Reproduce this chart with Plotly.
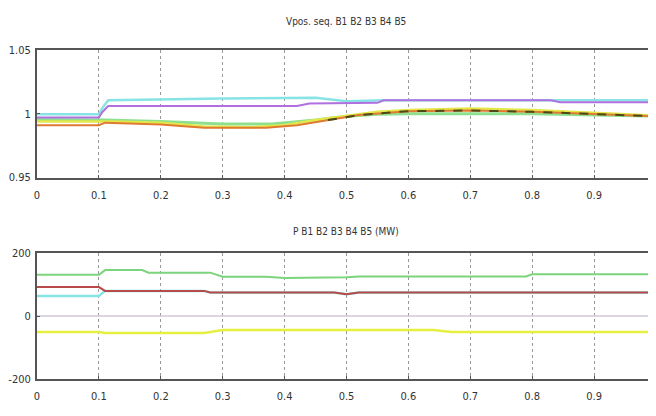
import plotly.graph_objects as go

# ---------- data: top panel (Vpos. seq., pu) ----------
t_yel = [0, 0.1, 0.12, 0.2, 0.27, 0.35, 0.4, 0.45, 0.5, 0.55, 0.6, 0.7, 0.8, 0.9, 1.0]
v_yel = [0.994, 0.994, 0.994, 0.993, 0.990, 0.9895, 0.991, 0.995, 0.9985, 1.0015, 1.003, 1.004, 1.003, 1.001, 0.9985]

t_mag = [0, 0.1, 0.105, 0.115, 0.42, 0.44, 0.55, 0.56, 0.83, 0.845, 1.0]
v_mag = [0.997, 0.997, 1.001, 1.006, 1.006, 1.008, 1.0085, 1.0105, 1.0105, 1.009, 1.009]

t_cya = [0, 0.1, 0.105, 0.115, 0.3, 0.45, 0.5, 0.56, 1.0]
v_cya = [0.9995, 0.9995, 1.004, 1.0105, 1.012, 1.0125, 1.0098, 1.0106, 1.0106]

t_red = [0, 0.1, 0.11, 0.2, 0.27, 0.37, 0.42, 0.47, 0.52, 0.6, 0.7, 0.8, 0.9, 1.0]
v_red = [0.991, 0.991, 0.993, 0.9915, 0.989, 0.989, 0.991, 0.995, 0.999, 1.002, 1.0025, 1.0015, 1.0, 0.998]

t_grn = [0, 0.1, 0.11, 0.2, 0.3, 0.38, 0.45, 0.5, 0.55, 0.6, 0.8, 0.9, 1.0]
v_grn = [0.9955, 0.9955, 0.995, 0.994, 0.992, 0.992, 0.995, 0.998, 0.9995, 1.0, 1.0, 0.999, 0.998]

t_drk = [0.47, 0.52, 0.6, 0.7, 0.8, 0.9, 1.0]
v_drk = [0.995, 0.999, 1.002, 1.0025, 1.0015, 1.0, 0.998]

# ---------- data: bottom panel (P, MW) ----------
tp_grn = [0, 0.1, 0.11, 0.17, 0.18, 0.28, 0.3, 0.37, 0.4, 0.5, 0.52, 0.79, 0.8, 1.0]
p_grn = [131, 131, 146, 146, 138, 138, 125, 125, 121, 123, 126, 126, 133, 133]

tp_red = [0, 0.1, 0.11, 0.27, 0.28, 0.48, 0.5, 0.52, 1.0]
p_red = [92, 92, 80, 80, 75, 75, 69, 75, 75]

tp_cya = [0, 0.1, 0.11, 0.27, 0.28, 0.48, 0.5, 0.52, 1.0]
p_cya = [64, 64, 80, 80, 75, 75, 69, 75, 75]

tp_yel = [0, 0.1, 0.11, 0.27, 0.3, 0.64, 0.67, 1.0]
p_yel = [-51, -51, -54, -54, -44, -44, -51, -51]

tp_mag = [0, 1.0]
p_mag = [0, 0]

x_ticks = [0, 0.1, 0.2, 0.3, 0.4, 0.5, 0.6, 0.7, 0.8, 0.9, 1.0]
x_labels = ["0", "0.1", "0.2", "0.3", "0.4", "0.5", "0.6", "0.7", "0.8", "0.9", "1"]
y1_ticks = [0.95, 1.0, 1.05]
y1_labels = ["0.95", "1", "1.05"]
y2_ticks = [-200, 0, 200]
y2_labels = ["-200", "0", "200"]

title_top = "Vpos. seq. B1 B2 B3 B4 B5"
title_bot = "P B1 B2 B3 B4 B5 (MW)"

fig = go.Figure()

def add(x, y, color, ax, width=2, dash=None):
    fig.add_trace(go.Scatter(x=x, y=y, mode="lines", xaxis=ax[0], yaxis=ax[1],
                             line=dict(color=color, width=width, dash=dash),
                             showlegend=False, hoverinfo="skip"))

top = ("x", "y")
bot = ("x2", "y2")
add(t_grn, v_grn, "#8ee08e", top, 3)
add(t_yel, v_yel, "#e2e84a", top, 2.5)
add(t_red, v_red, "#e07a30", top, 2)
add(t_drk, v_drk, "#4a4a18", top, 2, "dash")
add(t_cya, v_cya, "#88e4e4", top, 2.5)
add(t_mag, v_mag, "#b070e0", top, 2)

add(tp_mag, p_mag, "#cfc8d4", bot, 1.5)
add(tp_yel, p_yel, "#e6f040", bot, 2.5)
add(tp_grn, p_grn, "#7cd47c", bot, 2)
add(tp_cya, p_cya, "#88e4e4", bot, 2.5)
add(tp_red, p_red, "#b84a4a", bot, 2)

fam = "Liberation Sans Narrow, DejaVu Sans Condensed, Liberation Sans"
font = dict(family=fam, size=11, color="#333333")

xcommon = dict(range=[0, 0.9968], tickvals=x_ticks, ticktext=x_labels,
               showgrid=True, gridcolor="#999999", griddash="dot", gridwidth=1,
               showline=True, linecolor="#555555", linewidth=2, mirror=True,
               ticks="inside", ticklen=3, tickcolor="#555555",
               zeroline=False, tickfont=font, ticklabelstandoff=6)
ycommon = dict(showgrid=False, showline=True, linecolor="#555555", linewidth=2,
               mirror=True, ticks="inside", ticklen=3, tickcolor="#555555",
               zeroline=False, tickfont=font, ticklabelstandoff=2)

W, H = 648, 408  # page has an 8px body margin
fig.update_layout(
    width=W, height=H,
    margin=dict(l=25, r=0, t=0, b=0),
    paper_bgcolor="white", plot_bgcolor="white",
    xaxis=dict(domain=[0, 1], anchor="y", **xcommon),
    xaxis2=dict(domain=[0, 1], anchor="y2", **xcommon),
    yaxis=dict(domain=[1 - 169 / H, 1 - 37 / H], range=[0.95, 1.05], anchor="x",
               tickvals=y1_ticks, ticktext=y1_labels, **ycommon),
    yaxis2=dict(domain=[1 - 377 / H, 1 - 247 / H], range=[-200, 200], anchor="x2",
                tickvals=y2_ticks, ticktext=y2_labels, **ycommon),
    annotations=[
        dict(text=title_top, x=0.5, xref="x domain", y=1 - 8 / H, yref="paper",
             yanchor="middle", showarrow=False,
             font=dict(family=fam, size=10, color="#333333")),
        dict(text=title_bot, x=0.5, xref="x domain", y=1 - 225 / H, yref="paper",
             yanchor="middle", showarrow=False,
             font=dict(family=fam, size=10, color="#333333")),
    ],
)

fig.write_html("out.html")
